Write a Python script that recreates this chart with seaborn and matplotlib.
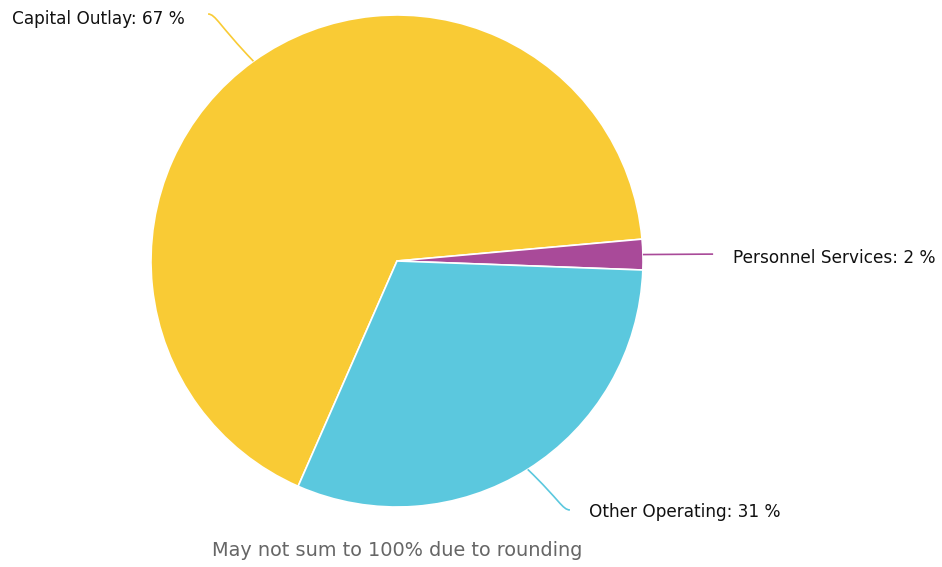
import numpy as np
import matplotlib
matplotlib.use("Agg")
import matplotlib.pyplot as plt
from matplotlib.path import Path
from matplotlib.patches import PathPatch
import seaborn as sns

# Budget shares by expenditure category
categories = ["Capital Outlay", "Personnel Services", "Other Operating"]
shares = [67, 2, 31]
colors = ["#F9CB35", "#A94A99", "#5BC8DE"]
footnote = "May not sum to 100% due to rounding"

sns.set_theme(style="white")
plt.rcParams["font.family"] = ["DejaVu Sans"]

W, H = 942, 567
fig = plt.figure(figsize=(W / 100, H / 100), dpi=100)
ax = fig.add_axes([0, 0, 1, 1])

# pie geometry in pixels: centre and radius
cx, cy, R = 397, 261, 246

start = 246.3
wedges, _ = ax.pie(shares, colors=colors, startangle=start, counterclock=False,
                   radius=1.0, center=(0, 0),
                   wedgeprops=dict(edgecolor="white", linewidth=1.2))
ax.set_xlim(-cx / R, (W - cx) / R)
ax.set_ylim((cy - H) / R, cy / R)
ax.set_aspect("equal")
ax.axis("off")

# label anchors (connector end, text position, alignment) in pie units
label_layout = [
    dict(end=(-0.768, 1.004), text=(-0.864, 0.985), ha="right"),
    dict(end=(1.285, 0.028), text=(1.366, 0.012), ha="left"),
    dict(end=(0.703, -1.012), text=(0.780, -1.022), ha="left"),
]

total = float(sum(shares))
angle = start
for name, val, col, lay in zip(categories, shares, colors, label_layout):
    span = 360.0 * val / total
    mid = np.deg2rad(angle - span / 2)
    angle -= span
    p0 = np.array([np.cos(mid), np.sin(mid)])
    p3 = np.array(lay["end"])
    side = -1 if lay["ha"] == "right" else 1
    # soft connector: mostly straight, bending level just before the label
    p1 = p0 + 0.75 * (p3 - p0)
    p2 = p3 - np.array([side * 0.03, 0.0])
    path = Path([p0, p1, p2, p3],
                [Path.MOVETO, Path.CURVE4, Path.CURVE4, Path.CURVE4])
    ax.add_patch(PathPatch(path, facecolor="none", edgecolor=col, lw=1.2))
    ax.text(lay["text"][0], lay["text"][1], f"{name}: {val} %",
            ha=lay["ha"], va="center", fontsize=12.2, color="#111111")

ax.text(0, (cy - 550) / R, footnote, ha="center", va="center",
        fontsize=13.9, color="#666666")

fig.savefig("out.png", dpi=100)
